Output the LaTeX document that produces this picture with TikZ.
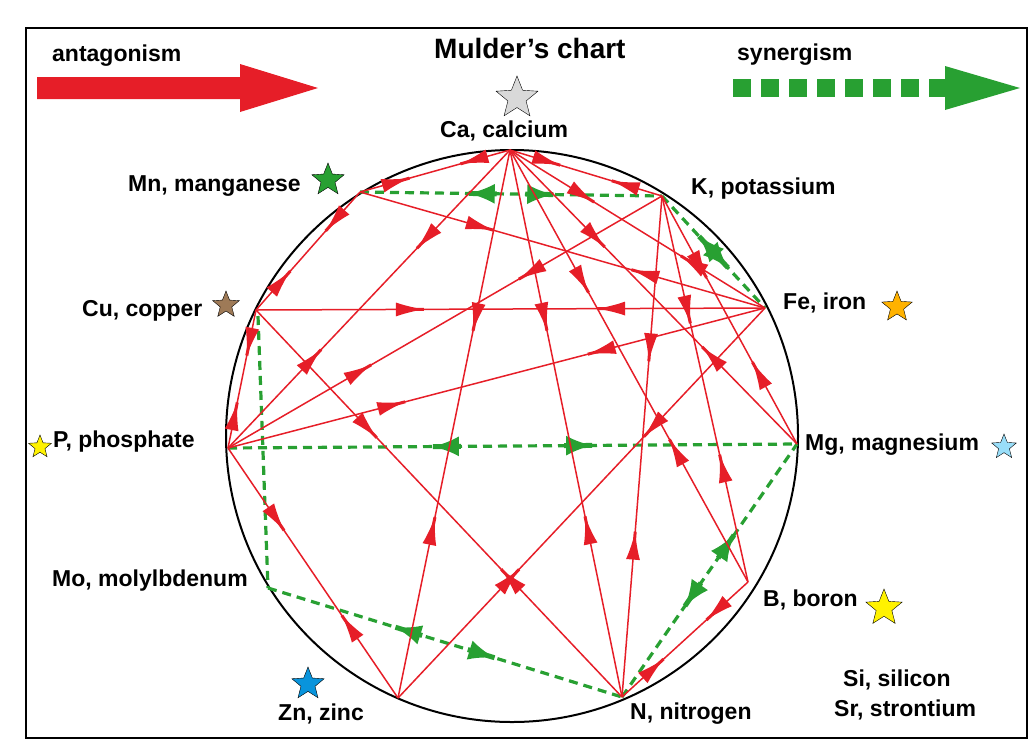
\documentclass[tikz,border=0pt]{standalone}
\usepackage{fontspec}
\setmainfont{Liberation Sans}
\usetikzlibrary{arrows.meta,decorations.markings,shapes.geometric}
\definecolor{ared}{RGB}{230,30,40}
\definecolor{sgreen}{RGB}{40,160,50}
\tikzset{
  anta/.style={draw=ared,line width=1.5pt,postaction={decorate},decoration={markings,
    mark=at position 0.33 with {\draw[ared,line width=3pt] (-14pt,0)--(0,0); \arrow{Latex[length=28pt,width=14pt]}},
    mark=at position 0.67 with {\draw[ared,line width=3pt] (14pt,0)--(0,0); \arrowreversed{Latex[length=28pt,width=14pt]}}}},
  syn/.style={draw=sgreen,line width=3.2pt,dash pattern=on 9pt off 6pt,postaction={decorate},decoration={markings,
    mark=at position 0.36 with {\draw[sgreen,solid,line width=5pt] (28pt,0)--(0,0); \arrowreversed{Latex[length=26pt,width=20pt]}},
    mark=at position 0.64 with {\draw[sgreen,solid,line width=5pt] (-28pt,0)--(0,0); \arrow{Latex[length=26pt,width=20pt]}}}},
  synp/.style={draw=sgreen,line width=3.2pt,dash pattern=on 9pt off 6pt},
  lab/.style={font=\bfseries\fontsize{23}{26}\selectfont,inner sep=0pt,anchor=west},
  st/.style={star,star points=5,star point ratio=2.3,draw=black,line width=0.4pt,inner sep=0pt,minimum size=#1},
  st/.default=28pt
}
\begin{document}
\begin{tikzpicture}[x=1pt,y=-1pt]
\useasboundingbox (0,0) rectangle (1036,748);
\draw[line width=1.5pt] (26,28) rectangle (1027,738);
% legend
\node[lab] (tant) at (52,56) {antagonism};
\node[lab,font=\bfseries\fontsize{28}{30}\selectfont] (title) at (434,48) {Mulder's chart};
\node[lab] (tsyn) at (737,55) {synergism};
\fill[ared] (37,77) -- (240,77) -- (240,64) -- (318,88) -- (240,112) -- (240,99) -- (37,99) -- cycle;
\draw[sgreen,line width=18pt,dash pattern=on 18pt off 10pt] (733,88) -- (948,88);
\fill[sgreen] (945,66) -- (1020,88) -- (945,110) -- cycle;
% circle
\draw[line width=2pt] (512,436) circle[radius=286pt];
% points
\coordinate (Ca) at (510,150);
\coordinate (Mn) at (360,192);
\coordinate (K) at (662,196);
\coordinate (Cu) at (256,310);
\coordinate (Fe) at (765,308);
\coordinate (P) at (228,448);
\coordinate (Mg) at (797,444);
\coordinate (Mo) at (268,588);
\coordinate (Cu2) at (258,316);
\coordinate (B) at (748,582);
\coordinate (Zn) at (398,698);
\coordinate (N) at (622,697);
% synergism
\draw[syn] (Mn) -- (K);
\draw[syn] (K) -- (Fe);
\draw[syn] (P) -- (Mg);
\draw[synp] (Cu2) -- (Mo);
\draw[syn] (Mo) -- (N);
\draw[syn] (N) -- (Mg);
% antagonism
\foreach \a/\b in {Ca/Mn,Ca/K,Ca/P,Ca/Zn,Ca/Mg,Ca/B,Ca/N,Ca/Fe,Mn/Cu,Mn/Fe,Cu/P,Cu/Fe,Cu/N,K/P,K/N,K/B,K/Mg,P/Fe,P/Zn,Fe/Zn,N/B}
  \draw[anta] (\a) -- (\b);
% labels
\node[lab] (lCa) at (440,131) {Ca, calcium};
\node[lab] (lMn) at (128,186) {Mn, manganese};
\node[lab] (lK) at (691,189) {K, potassium};
\node[lab] (lCu) at (82,311) {Cu, copper};
\node[lab] (lFe) at (783,303) {Fe, iron};
\node[lab] (lP) at (53,442) {P, phosphate};
\node[lab] (lMg) at (805,445) {Mg, magnesium};
\node[lab] (lMo) at (52,581) {Mo, molylbdenum};
\node[lab] (lB) at (763,600) {B, boron};
\node[lab] (lZn) at (278,714) {Zn, zinc};
\node[lab] (lN) at (630,714) {N, nitrogen};
\node[lab] (lSi) at (843,680) {Si, silicon};
\node[lab] (lSr) at (834,710) {Sr, strontium};
% stars
\node[st=44pt,fill=gray!30] (sCa) at (517,98) {};
\node[st=34pt,fill=sgreen] (sMn) at (328,180) {};
\node[st=28pt,fill=brown!70!black!80] (sCu) at (226,305) {};
\node[st=32pt,fill=orange!60!yellow] (sFe) at (897,307) {};
\node[st=24pt,fill=yellow] (sP) at (40,447) {};
\node[st=26pt,fill=cyan!40] (sMg) at (1004,447) {};
\node[st=38pt,fill=yellow] (sB) at (884,608) {};
\node[st=34pt,fill=cyan!80!blue] (sZn) at (308,684) {};
\end{tikzpicture}
\end{document}
